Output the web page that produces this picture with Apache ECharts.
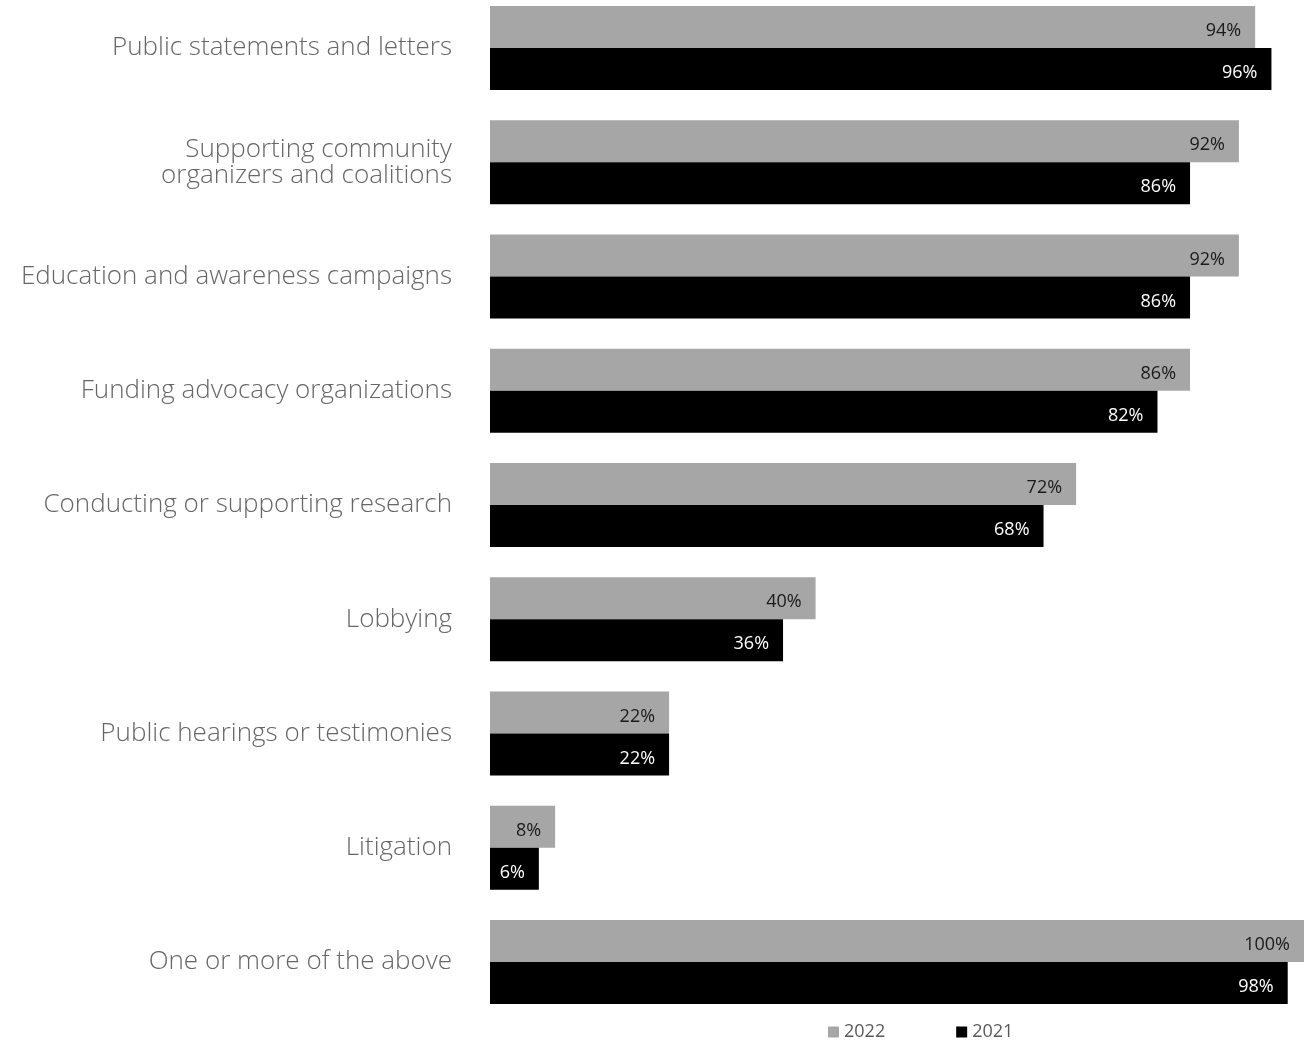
<!DOCTYPE html>
<html><head><meta charset="utf-8">
<script src="https://cdn.jsdelivr.net/npm/echarts@6/dist/echarts.min.js"></script>
<style>html,body{margin:0;padding:0;background:#fff}#c{width:1304px;height:1042px}</style>
</head><body><div id="c"></div>
<script>
const categories = [
  "Public statements and letters",
  "Supporting community\norganizers and coalitions",
  "Education and awareness campaigns",
  "Funding advocacy organizations",
  "Conducting or supporting research",
  "Lobbying",
  "Public hearings or testimonies",
  "Litigation",
  "One or more of the above"
];
const values2022 = [94, 92, 92, 86, 72, 40, 22, 8, 100];
const values2021 = [96, 86, 86, 82, 68, 36, 22, 6, 98];
const seriesNames = ["2022", "2021"];

const chart = echarts.init(document.getElementById('c'));
chart.setOption({
  animation: false,
  grid: { left: 490, right: 0, top: 48, height: 914, containLabel: false },
  xAxis: { type: 'value', min: 0, max: 100, show: false },
  yAxis: {
    type: 'category', data: categories, inverse: true, boundaryGap: false,
    axisLine: { show: false }, axisTick: { show: false }, splitLine: { show: false },
    axisLabel: { margin: 38, color: '#666666', fontFamily: 'Open Sans', fontWeight: 300, fontSize: 26, lineHeight: 26, align: 'right' }
  },
  legend: {
    top: 1018, left: 823, itemWidth: 11, itemHeight: 11, itemGap: 71,
    icon: 'rect',
    textStyle: { color: '#595959', fontFamily: 'Open Sans', fontSize: 18 },
    data: seriesNames
  },
  series: [
    { name: seriesNames[0], type: 'bar', data: values2022, barWidth: 42, barGap: '0%',
      itemStyle: { color: '#a6a6a6' },
      label: { show: true, position: 'insideRight', distance: 14, offset: [0, 4], formatter: '{c}%', color: '#1a1a1a', fontFamily: 'Open Sans', fontSize: 18 } },
    { name: seriesNames[1], type: 'bar', data: values2021, barWidth: 42, barGap: '0%',
      itemStyle: { color: '#000000' },
      label: { show: true, position: 'insideRight', distance: 14, offset: [0, 4], formatter: '{c}%', color: '#ffffff', fontFamily: 'Open Sans', fontSize: 18 } }
  ]
});
</script></body></html>
